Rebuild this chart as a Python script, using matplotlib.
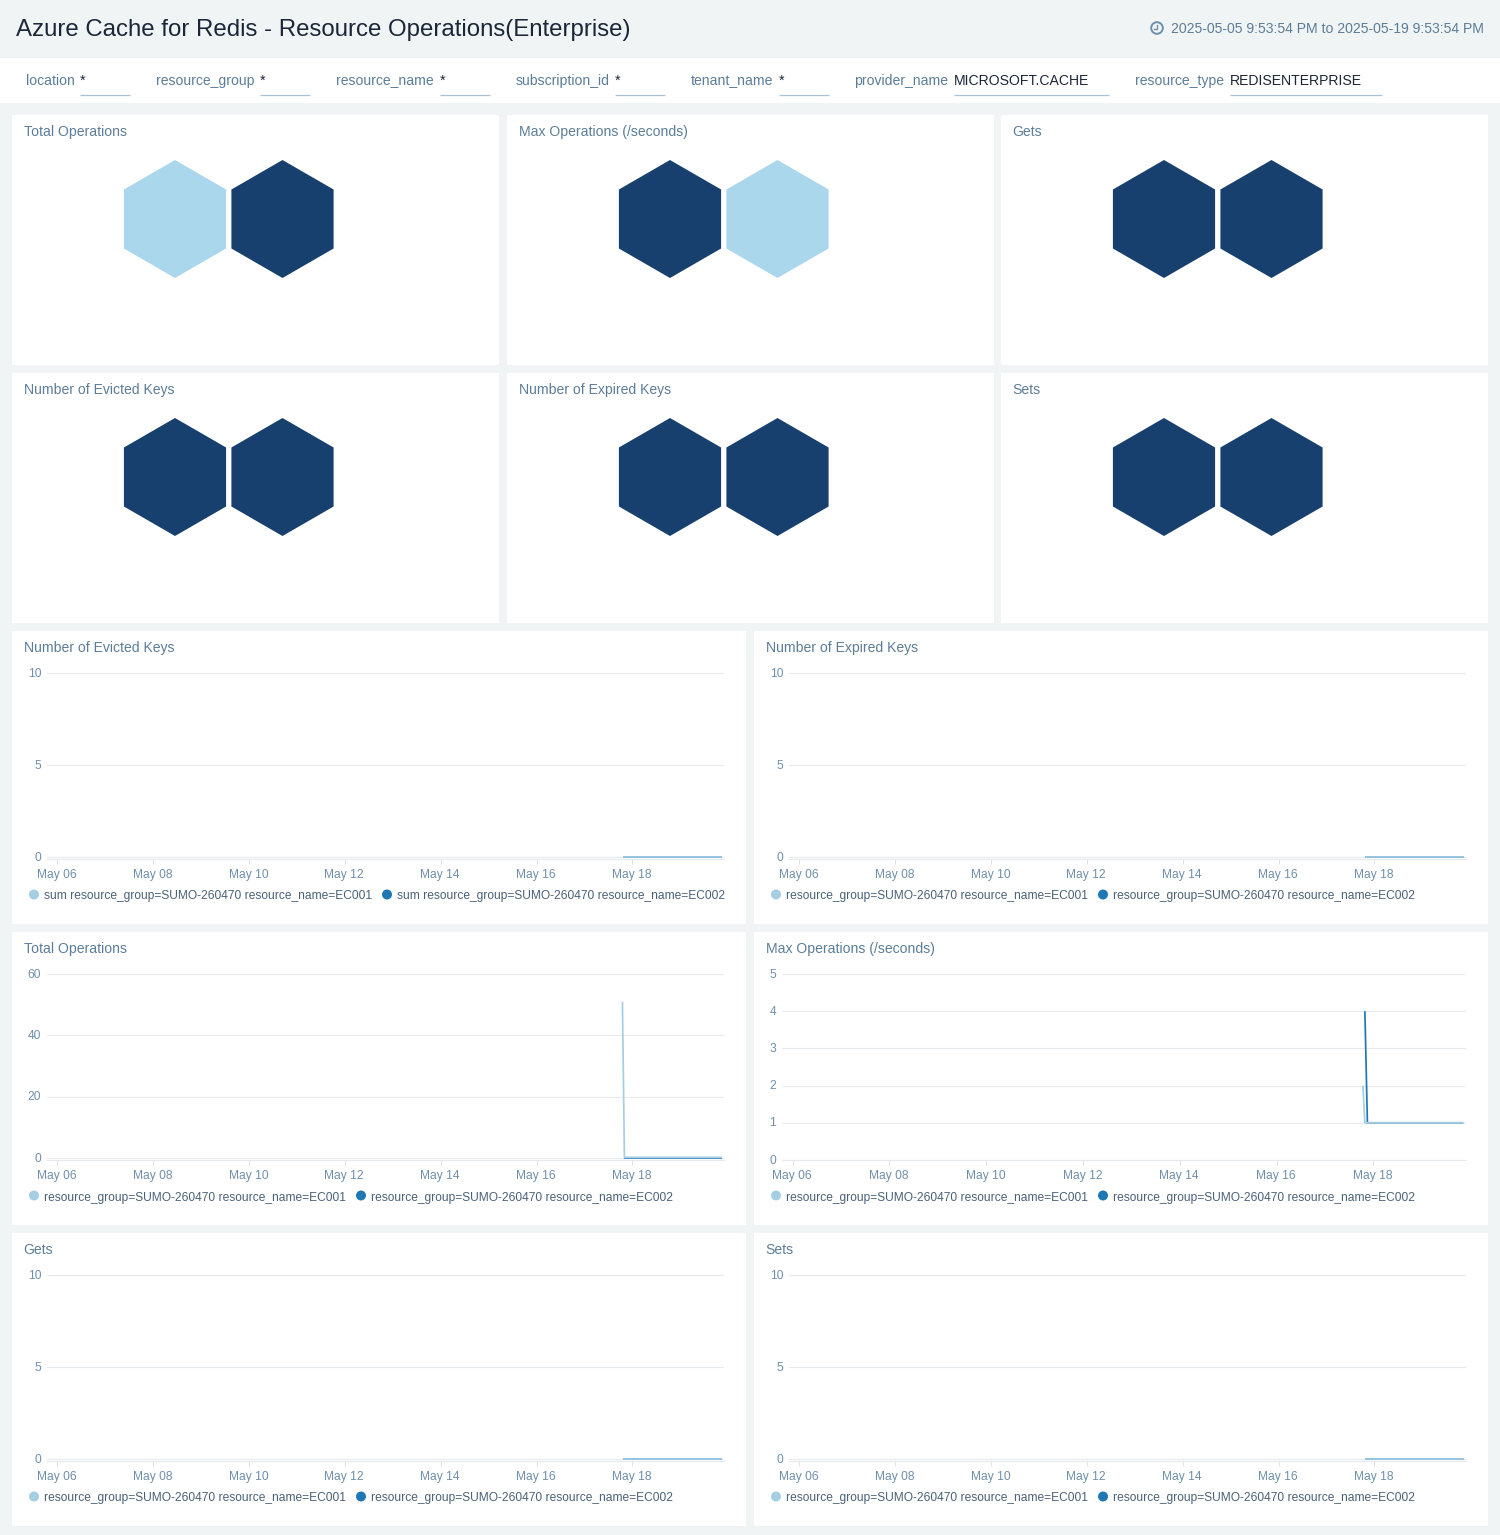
import matplotlib
matplotlib.use('Agg')
import matplotlib.pyplot as plt
import matplotlib.dates as mdates
import pandas as pd
from matplotlib.patches import Rectangle, RegularPolygon, Circle
from matplotlib.transforms import ScaledTranslation

plt.rcParams['font.family'] = ['Liberation Sans', 'DejaVu Sans']

W, H = 1500, 1535
BG = '#f0f4f5'
LABEL = '#5c7d99'
TICK = '#6f8fab'
LEGEND = '#4a6178'
DARK = '#1b2638'
GRID = '#e7eaed'
LIGHT_LINE = '#a6cee3'
DARK_LINE = '#1f78b4'
HEX_LIGHT = '#aad7ec'
HEX_DARK = '#17406e'

# ---- data ----
page_title = 'Azure Cache for Redis - Resource Operations(Enterprise)'
time_range = '2025-05-05 9:53:54 PM to 2025-05-19 9:53:54 PM'

filter_names = ['location', 'resource_group', 'resource_name', 'subscription_id',
                'tenant_name', 'provider_name', 'resource_type']
filter_values = ['*', '*', '*', '*', '*', 'MICROSOFT.CACHE', 'REDISENTERPRISE']

hex_titles = ['Total Operations', 'Max Operations (/seconds)', 'Gets',
              'Number of Evicted Keys', 'Number of Expired Keys', 'Sets']
# 0 = light tile, 1 = dark tile (EC001, EC002)
hex_states = [[0, 1], [1, 0], [1, 1], [1, 1], [1, 1], [1, 1]]

x_limits = pd.to_datetime(['2025-05-05 18:45', '2025-05-19 21:53'])
x_ticks = pd.to_datetime(['2025-05-06', '2025-05-08', '2025-05-10', '2025-05-12',
                          '2025-05-14', '2025-05-16', '2025-05-18'])

flat_times = pd.to_datetime(['2025-05-17 19:30', '2025-05-19 21:00'])
flat_values = [0, 0]

total_times_ec001 = pd.to_datetime(['2025-05-17 19:00', '2025-05-17 20:00', '2025-05-19 21:00'])
total_ec001 = [51, 0.2, 0.2]
total_times_ec002 = pd.to_datetime(['2025-05-17 20:00', '2025-05-19 21:00'])
total_ec002 = [0.1, 0.1]

max_times_ec001 = pd.to_datetime(['2025-05-17 18:45', '2025-05-17 19:45', '2025-05-19 20:30'])
max_ec001 = [2, 1, 1]
max_times_ec002 = pd.to_datetime(['2025-05-17 19:45', '2025-05-17 21:00', '2025-05-19 20:30'])
max_ec002 = [4, 1, 1]

rg = 'resource_group=SUMO-260470 resource_name='
legend_plain = [rg + 'EC001', rg + 'EC002']
legend_sum = ['sum ' + rg + 'EC001', 'sum ' + rg + 'EC002']

fig = plt.figure(figsize=(W / 100, H / 100), dpi=100, facecolor=BG)

# full page overlay in pixel coordinates
page = fig.add_axes([0, 0, 1, 1], zorder=0)
page.set_xlim(0, W)
page.set_ylim(H, 0)
page.axis('off')


def fs(px):
    return px * 0.72


def box(x0, y0, x1, y1, color='white'):
    page.add_patch(Rectangle((x0, y0), x1 - x0, y1 - y0, fc=color, ec='none'))


def label(x, y, s, px=14, color=LABEL, ha='left'):
    page.text(x, y, s, fontsize=fs(px), color=color, ha=ha, va='center')


# ---- header ----
label(16, 30, page_title, px=24, color=DARK)
label(1484, 29, time_range, px=14, ha='right')
page.add_patch(Circle((1157, 28), 5.8, fc='none', ec=TICK, lw=1.4))
page.plot([1157, 1157, 1153.5], [24.5, 28.5, 28.5], color=TICK, lw=1)

# ---- filter strip ----
box(0, 58, W, 103)
name_x = [26, 156, 336, 515.5, 690.5, 854.5, 1135.5]
value_x = [80, 260, 440, 615, 779, 954, 1230]
value_end = [130, 310, 490, 665, 829, 1109, 1382]
for name, val, nx, vx, ve in zip(filter_names, filter_values, name_x, value_x, value_end):
    label(nx, 81, name)
    label(vx, 81, val, color=DARK)
    page.plot([vx, ve], [94.5, 94.5], color='#a9c2d6', lw=0.9, solid_capstyle='butt')

# ---- honeycomb panels ----
hex_left = [12, 507, 1001]
hex_right = [499, 994, 1488]
hex_top = [115, 373]
hex_centers = [[175, 282.5], [670, 777.5], [1164, 1271.5]]
for i, (title, states) in enumerate(zip(hex_titles, hex_states)):
    col, row = i % 3, i // 3
    y0 = hex_top[row]
    box(hex_left[col], y0, hex_right[col], y0 + 250)
    label(hex_left[col] + 12 - (0.5 if col == 2 else 0), y0 + 17, title)
    for cx, state in zip(hex_centers[col], states):
        page.add_patch(RegularPolygon((cx, y0 + 104), 6, radius=59,
                                      fc=HEX_DARK if state else HEX_LIGHT, ec='none'))


# ---- time series panels ----
def line_panel(x0, y0, title, ymax, yticks, series, legend_text, legend2_x,
               axis_left=None, baseline_gap=2):
    box(x0, y0, x0 + 734, y0 + 293)
    label(x0 + 12 - (0.5 if title in ('Gets', 'Sets') else 0), y0 + 17, title)
    left = axis_left if axis_left is not None else x0 + 35
    right = x0 + 712
    top = y0 + 42
    bottom = y0 + 228
    zero = bottom - baseline_gap
    ax = fig.add_axes([left / W, 1 - bottom / H, (right - left) / W, (bottom - top) / H], zorder=1)
    ax.patch.set_alpha(0)
    ax.set_xlim(x_limits[0], x_limits[1])
    ax.set_ylim(-(bottom - zero) / (zero - top) * ymax, ymax)
    ax.set_yticks(yticks)
    ax.set_xticks(x_ticks)
    ax.xaxis.set_major_formatter(mdates.DateFormatter('%b %d'))
    ax.grid(axis='y', color=GRID, lw=0.8)
    ax.set_axisbelow(True)
    for side in ['top', 'left', 'right']:
        ax.spines[side].set_visible(False)
    ax.spines['bottom'].set_color(GRID)
    ax.spines['bottom'].set_linewidth(0.8)
    ax.tick_params(axis='y', length=0, pad=4.2, labelsize=fs(12), labelcolor=TICK)
    ax.tick_params(axis='x', length=3.5, width=0.7, color='#dde2e6', pad=3.5,
                   labelsize=fs(12), labelcolor=TICK)
    # nudge tick labels by a pixel to sit where the dashboard puts them
    for lbl in ax.get_yticklabels():
        lbl.set_transform(lbl.get_transform() + ScaledTranslation(0, 0.8 / 100, fig.dpi_scale_trans))
    for lbl in ax.get_xticklabels():
        lbl.set_transform(lbl.get_transform() + ScaledTranslation(-0.7 / 100, 0, fig.dpi_scale_trans))
    for times, values, color in series:
        ax.plot(times, values, color=color, lw=1.25, clip_on=False,
                solid_joinstyle='miter', solid_capstyle='butt')
    ly = y0 + 264
    page.add_patch(Circle((x0 + 22, ly - 0.5), 5, fc=LIGHT_LINE, ec='none'))
    label(x0 + 32, ly + 1.5, legend_text[0], px=12, color=LEGEND)
    page.add_patch(Circle((legend2_x, ly - 0.5), 5, fc=DARK_LINE, ec='none'))
    label(legend2_x + 10, ly + 1.5, legend_text[1], px=12, color=LEGEND)
    return ax


flat_series = [(flat_times, flat_values, DARK_LINE), (flat_times, flat_values, LIGHT_LINE)]

line_panel(12, 631, 'Number of Evicted Keys', 10, [0, 5, 10], flat_series, legend_sum, 387)
line_panel(754, 631, 'Number of Expired Keys', 10, [0, 5, 10], flat_series, legend_plain, 1103)
line_panel(12, 932, 'Total Operations', 60, [0, 20, 40, 60],
           [(total_times_ec002, total_ec002, DARK_LINE), (total_times_ec001, total_ec001, LIGHT_LINE)],
           legend_plain, 361)
line_panel(754, 932, 'Max Operations (/seconds)', 5, [0, 1, 2, 3, 4, 5],
           [(max_times_ec002, max_ec002, DARK_LINE), (max_times_ec001, max_ec001, LIGHT_LINE)],
           legend_plain, 1103, axis_left=782, baseline_gap=0)
line_panel(12, 1233, 'Gets', 10, [0, 5, 10], flat_series, legend_plain, 361)
line_panel(754, 1233, 'Sets', 10, [0, 5, 10], flat_series, legend_plain, 1103)

fig.savefig('out.png', dpi=100, facecolor=BG)
